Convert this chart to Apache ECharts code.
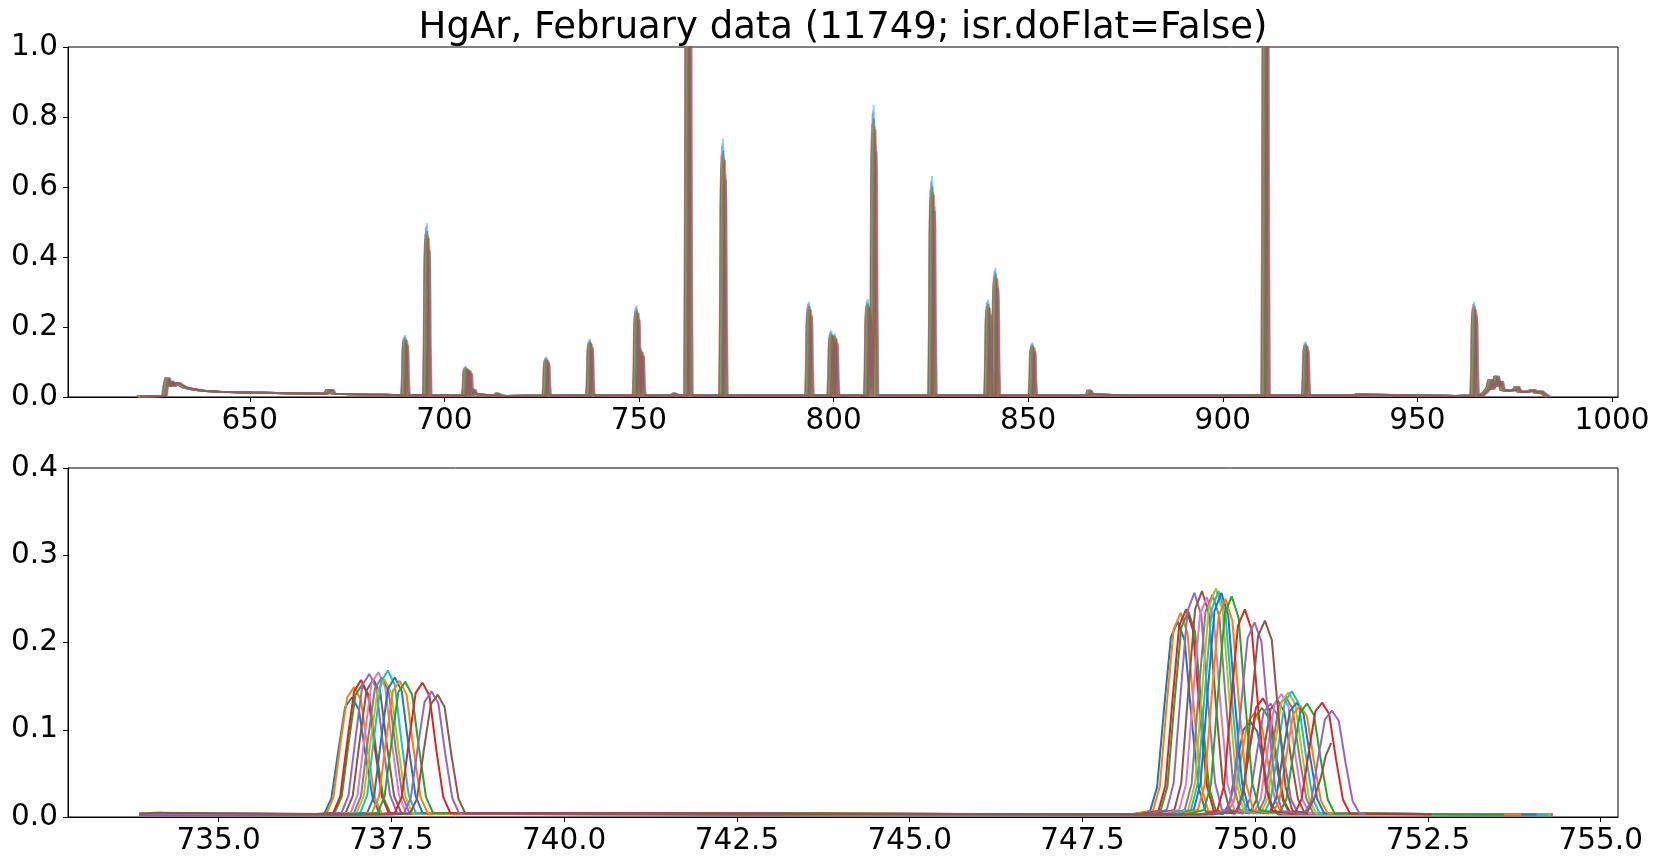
<!DOCTYPE html>
<html><head><meta charset="utf-8">
<script src="https://cdn.jsdelivr.net/npm/echarts@6/dist/echarts.min.js"></script>
<style>html,body{margin:0;padding:0;background:#fff}#c{width:1661px;height:866px}</style>
</head><body><div id="c"></div>
<script>
// ---------- text / ticks ----------
const titleText = 'HgAr, February data (11749; isr.doFlat=False)';
const topXTicks = [650, 700, 750, 800, 850, 900, 950, 1000];
const bottomXTicks = [735, 737.5, 740, 742.5, 745, 747.5, 750, 752.5, 755];
const colors = ['#1f77b4','#ff7f0e','#2ca02c','#d62728','#9467bd','#8c564b','#e377c2','#7f7f7f','#bcbd22','#17becf',
                '#1f77b4','#ff7f0e','#2ca02c','#d62728','#9467bd','#8c564b'];

// ---------- top panel: emission lines ----------
// [centre wavelength (nm), typical peak height]
const topLines = [
  [689.9,0.165],[695.5,0.465],[705.5,0.082],[706.3,0.075],[707.5,0.025],[713.7,0.012],
  [726.2,0.107],[737.4,0.155],[749.4,0.245],[750.5,0.13],[759.2,0.012],[762.6,1.5],
  [771.6,0.69],[793.7,0.255],[799.4,0.178],[800.3,0.17],[808.8,0.262],[810.3,0.78],
  [825.3,0.59],[828.8,0.006],[839.7,0.26],[841.6,0.345],[851.1,0.145],[865.8,0.022],
  [875.8,0.005],[910.9,1.5],[921.3,0.148],[934.3,0.008],[964.6,0.255]
];
// continuum and noisy ends of the spectrum
const topContinuum = [
  [621.4,0.002],[624,0.002],[628.0,0.003],[628.3,0.03],[628.8,0.055],[629.2,0.03],[629.8,0.045],
  [630.3,0.03],[630.8,0.04],[631.5,0.04],[632.3,0.033],[633.3,0.027],[635.3,0.022],[638,0.018],
  [642,0.015],[650,0.013],[660,0.011],[669.6,0.009],[670.1,0.02],[670.9,0.02],[671.4,0.009],
  [680,0.007],[687,0.006],[692.5,0.006],[700,0.005],[712,0.004],[716,0.003],[960,0.003],
  [966.3,0.004],[967.2,0.012],[968.2,0.025],[968.7,0.05],[969.1,0.022],[969.8,0.04],[970.3,0.06],
  [970.7,0.03],[971.3,0.045],[971.8,0.02],[973,0.018],[975,0.02],[975.5,0.03],[976,0.016],
  [978,0.014],[979.7,0.02],[980.5,0.012],[981.6,0.016],[982.5,0.008],[983.4,0.001]
];
// per-exposure wavelength offset and peak scale
const seriesShift = [-0.52,-0.49,-0.37,-0.39,-0.27,-0.21,-0.14,-0.09,-0.05,0,0.10,0.17,0.25,0.50,0.63,0.72];
const seriesPeakScale = [0.88,0.95,0.97,1.0,1.04,1.0,1.05,1.01,1.01,1.07,1.02,1.0,0.99,0.98,0.92,0.90];
// line profile (offset nm, fraction of peak)
const spikeDx = [-0.5,-0.3,-0.15,0,0.15,0.3,0.5];
const spikeFrac = [0,0.35,0.9,1,0.9,0.35,0];
const spikeBase = 0.004;

// ---------- bottom panel: 16 exposures, [wavelength, flux] ----------
const b00=[[733.85,.003],[734.15,.005],[734.5,.003],[736.3,.003],
[736.53,.004],[736.63,.021],[736.73,.075],[736.83,.126],[736.93,.137],[737.03,.123],[737.13,.069],[737.23,.021],[737.33,.004],
[740.5,.003],[748.2,.003],
[748.48,.007],[748.58,.034],[748.68,.123],[748.78,.206],[748.88,.224],[748.98,.202],[749.08,.112],[749.18,.034],[749.28,.007],
[749.53,.003],[749.63,.016],[749.73,.060],[749.83,.100],[749.93,.109],[750.03,.098],[750.13,.055],[750.23,.016],[750.33,.003],
[754.30,.003]];
const b01=[[733.85,.003],[734.1,.004],[734.6,.003],[736.3,.003],
[736.56,.004],[736.66,.022],[736.76,.082],[736.86,.137],[736.96,.149],[737.06,.134],[737.16,.075],[737.26,.022],[737.36,.004],
[741,.003],[748.2,.003],
[748.52,.007],[748.62,.035],[748.72,.129],[748.82,.215],[748.92,.234],[749.02,.211],[749.12,.117],[749.22,.035],[749.32,.007],
[749.59,.004],[749.69,.018],[749.79,.065],[749.89,.109],[749.99,.119],[750.09,.107],[750.19,.060],[750.29,.018],[750.39,.004],
[754.30,.003]];
const b02=[[733.85,.003],[734.2,.004],[736.4,.003],
[736.68,.005],[736.78,.023],[736.88,.084],[736.98,.140],[737.08,.152],[737.18,.137],[737.28,.076],[737.38,.023],[737.48,.005],
[742,.003],[748.3,.003],
[748.63,.007],[748.73,.035],[748.83,.130],[748.93,.217],[749.03,.236],[749.13,.212],[749.23,.118],[749.33,.035],[749.43,.007],
[749.70,.004],[749.80,.019],[749.90,.069],[750.00,.115],[750.10,.125],[750.20,.113],[750.30,.063],[750.40,.019],[750.50,.004],
[754.30,.003]];
const b03=[[733.85,.004],[734.3,.003],[736.4,.003],
[736.66,.005],[736.76,.024],[736.86,.086],[736.96,.144],[737.06,.157],[737.16,.141],[737.26,.079],[737.36,.024],[737.46,.005],
[743,.003],[748.3,.003],
[748.60,.007],[748.70,.036],[748.80,.131],[748.90,.219],[749.00,.238],[749.10,.214],[749.20,.119],[749.30,.036],[749.40,.007],
[749.71,.004],[749.81,.020],[749.91,.075],[750.01,.125],[750.11,.136],[750.21,.122],[750.31,.068],[750.41,.020],[750.51,.004],
[754.30,.003]];
const b04=[[733.85,.003],[734.4,.004],[736.5,.003],
[736.78,.005],[736.88,.025],[736.98,.090],[737.08,.151],[737.18,.164],[737.28,.148],[737.38,.082],[737.48,.025],[737.58,.005],
[744,.003],[748.4,.003],
[748.72,.008],[748.82,.039],[748.92,.141],[749.02,.236],[749.12,.257],[749.22,.231],[749.32,.129],[749.42,.039],[749.52,.008],
[749.82,.004],[749.92,.020],[750.02,.072],[750.12,.120],[750.22,.130],[750.32,.117],[750.42,.065],[750.52,.020],[750.62,.004],
[754.30,.003]];
const b05=[[733.85,.003],[735,.004],[736.6,.003],
[736.84,.005],[736.94,.024],[737.04,.087],[737.14,.145],[737.24,.158],[737.34,.142],[737.44,.079],[737.54,.024],[737.64,.005],
[745,.003],[748.5,.003],
[748.83,.008],[748.93,.039],[749.03,.142],[749.13,.238],[749.23,.259],[749.33,.233],[749.43,.130],[749.53,.039],[749.63,.008],
[749.92,.004],[750.02,.020],[750.12,.074],[750.22,.123],[750.32,.134],[750.42,.121],[750.52,.067],[750.62,.020],[750.72,.004],
[754.30,.003]];
const b06=[[733.85,.003],[735.5,.004],[736.6,.003],
[736.91,.005],[737.01,.025],[737.11,.091],[737.21,.153],[737.31,.166],[737.41,.149],[737.51,.083],[737.61,.025],[737.71,.005],
[744.5,.003],[748.6,.003],
[748.90,.008],[749.00,.038],[749.10,.139],[749.20,.232],[749.30,.252],[749.40,.227],[749.50,.126],[749.60,.038],[749.70,.008],
[749.98,.004],[750.08,.021],[750.18,.078],[750.28,.130],[750.38,.141],[750.48,.127],[750.58,.071],[750.68,.021],[750.78,.004],
[754.30,.003]];
const b07=[[733.85,.003],[736.7,.003],
[736.96,.005],[737.06,.024],[737.16,.088],[737.26,.147],[737.36,.160],[737.46,.144],[737.56,.080],[737.66,.024],[737.76,.005],
[748.7,.003],
[748.98,.008],[749.08,.038],[749.18,.140],[749.28,.235],[749.38,.255],[749.48,.230],[749.58,.128],[749.68,.038],[749.78,.008],
[750.04,.004],[750.14,.021],[750.24,.076],[750.34,.127],[750.44,.138],[750.54,.124],[750.64,.069],[750.74,.021],[750.84,.004],
[754.30,.003]];
const b08=[[733.85,.003],[736.7,.003],
[737.00,.005],[737.10,.024],[737.20,.087],[737.30,.145],[737.40,.158],[737.50,.142],[737.60,.079],[737.70,.024],[737.80,.005],
[748.8,.003],
[749.03,.008],[749.13,.039],[749.23,.144],[749.33,.241],[749.43,.262],[749.53,.236],[749.63,.131],[749.73,.039],[749.83,.008],
[750.08,.004],[750.18,.021],[750.28,.079],[750.38,.132],[750.48,.143],[750.58,.129],[750.68,.072],[750.78,.021],[750.88,.004],
[754.28,.003]];
const b09=[[733.85,.003],[736.8,.003],
[737.05,.005],[737.15,.025],[737.25,.092],[737.35,.155],[737.45,.168],[737.55,.151],[737.65,.084],[737.75,.025],[737.85,.005],
[748.8,.003],
[749.07,.008],[749.17,.039],[749.27,.142],[749.37,.238],[749.47,.259],[749.57,.233],[749.67,.130],[749.77,.039],[749.87,.008],
[750.13,.004],[750.23,.022],[750.33,.079],[750.43,.132],[750.53,.144],[750.63,.130],[750.73,.072],[750.83,.022],[750.93,.004],
[754.24,.003]];
const b10=[[733.85,.003],[736.9,.003],
[737.15,.005],[737.25,.024],[737.35,.088],[737.45,.147],[737.55,.160],[737.65,.144],[737.75,.080],[737.85,.024],[737.95,.005],
[748.9,.003],
[749.11,.008],[749.21,.039],[749.31,.141],[749.41,.236],[749.51,.257],[749.61,.231],[749.71,.129],[749.81,.039],[749.91,.008],
[750.20,.004],[750.30,.020],[750.40,.072],[750.50,.121],[750.60,.131],[750.70,.118],[750.80,.066],[750.90,.020],[751.00,.004],
[754.07,.003]];
const b11=[[733.85,.003],[737.0,.003],
[737.22,.005],[737.32,.023],[737.42,.086],[737.52,.144],[737.62,.156],[737.72,.140],[737.82,.078],[737.92,.023],[738.02,.005],
[748.9,.003],
[749.17,.008],[749.27,.038],[749.37,.138],[749.47,.230],[749.57,.250],[749.67,.225],[749.77,.125],[749.87,.038],[749.97,.008],
[750.25,.004],[750.35,.019],[750.45,.070],[750.55,.118],[750.65,.128],[750.75,.115],[750.85,.064],[750.95,.019],[751.05,.004],
[753.85,.003]];
const b12=[[733.85,.003],[737.1,.003],
[737.30,.005],[737.40,.023],[737.50,.085],[737.60,.143],[737.70,.155],[737.80,.140],[737.90,.078],[738.00,.023],[738.10,.005],
[749.0,.003],
[749.26,.008],[749.36,.038],[749.46,.139],[749.56,.233],[749.66,.253],[749.76,.228],[749.86,.127],[749.96,.038],[750.06,.008],
[750.35,.004],[750.45,.020],[750.55,.072],[750.65,.120],[750.75,.130],[750.85,.117],[750.95,.065],[751.05,.020],[751.15,.004],
[753.60,.003]];
const b13=[[733.85,.003],[737.3,.003],
[737.55,.005],[737.65,.023],[737.75,.085],[737.85,.142],[737.95,.154],[738.05,.139],[738.15,.077],[738.25,.023],[738.35,.005],
[749.2,.003],
[749.45,.007],[749.55,.036],[749.65,.131],[749.75,.219],[749.85,.238],[749.95,.214],[750.05,.119],[750.15,.036],[750.25,.007],
[750.57,.004],[750.67,.020],[750.77,.072],[750.87,.121],[750.97,.131],[751.07,.118],[751.17,.066],[751.27,.020],[751.37,.004],
[752.55,.003]];
const b14=[[733.85,.003],[737.4,.003],
[737.68,.004],[737.78,.022],[737.88,.079],[737.98,.132],[738.08,.144],[738.18,.130],[738.28,.072],[738.38,.022],[738.48,.004],
[749.3,.003],
[749.59,.007],[749.69,.033],[749.79,.123],[749.89,.205],[749.99,.223],[750.09,.201],[750.19,.112],[750.29,.033],[750.39,.007],
[750.71,.004],[750.81,.018],[750.91,.067],[751.01,.112],[751.11,.122],[751.21,.110],[751.31,.061],[751.41,.018],[751.51,.004],
[751.60,.003]];
const b15=[[733.85,.004],[734.1,.005],[737.5,.003],
[737.77,.004],[737.87,.021],[737.97,.077],[738.07,.129],[738.17,.140],[738.27,.126],[738.37,.070],[738.47,.021],[738.57,.004],
[749.4,.003],
[749.74,.007],[749.84,.034],[749.94,.124],[750.04,.207],[750.14,.225],[750.24,.203],[750.34,.113],[750.44,.034],[750.54,.007],
[750.75,.005],[750.85,.02],[750.95,.045],[751.02,.07],[751.10,.085]];
const bottomSeries = [b00,b01,b02,b03,b04,b05,b06,b07,b08,b09,b10,b11,b12,b13,b14,b15];

// ---------- build ----------
function buildTop(s) {
  const pts = topContinuum.map(([x, y]) => [x + seriesShift[s], y]);
  for (const [c, h] of topLines) {
    for (let k = 0; k < spikeDx.length; k++) {
      const y = spikeFrac[k] === 0 ? spikeBase : h * seriesPeakScale[s] * spikeFrac[k];
      pts.push([c + seriesShift[s] + spikeDx[k], y]);
    }
  }
  pts.sort((a, b) => a[0] - b[0]);
  return pts;
}

const FONT = 'DejaVu Sans';
const labelStyle = { fontFamily: FONT, fontSize: 29.5, color: '#000' };
const tickStyle = { show: true, length: 5, inside: false, lineStyle: { color: '#000', width: 1 } };

const series = [];
for (let s = 0; s < 16; s++) {
  series.push({
    type: 'line', xAxisIndex: 0, yAxisIndex: 0, data: buildTop(s), showSymbol: false,
    symbol: 'none', clip: true, animation: false, silent: true,
    lineStyle: { color: colors[s], width: 2, opacity: 0.5 }
  });
}
for (let s = 0; s < 16; s++) {
  series.push({
    type: 'line', xAxisIndex: 1, yAxisIndex: 1, data: bottomSeries[s], showSymbol: false,
    symbol: 'none', clip: true, animation: false, silent: true,
    lineStyle: { color: colors[s], width: 2 }
  });
}

const chart = echarts.init(document.getElementById('c'), null, { renderer: 'canvas' });
chart.setOption({
  animation: false,
  backgroundColor: '#fff',
  graphic: [{
    type: 'text', x: 843, y: 10,
    style: { text: titleText, fontFamily: FONT, fontSize: 37, fill: '#000', align: 'center', verticalAlign: 'top' }
  }],
  grid: [
    { left: 68, top: 47, width: 1550, height: 350, show: true, borderColor: '#000', borderWidth: 1, backgroundColor: 'transparent' },
    { left: 68, top: 468, width: 1550, height: 349, show: true, borderColor: '#000', borderWidth: 1, backgroundColor: 'transparent' }
  ],
  xAxis: [
    { type: 'value', gridIndex: 0, min: 603.3, max: 1001.55, splitLine: { show: false },
      axisLine: { show: true, onZero: false, lineStyle: { color: '#000', width: 1 } },
      axisTick: Object.assign({ customValues: topXTicks }, tickStyle),
      axisLabel: Object.assign({ customValues: topXTicks, margin: 9, formatter: v => String(Math.round(v)) }, labelStyle) },
    { type: 'value', gridIndex: 1, min: 732.82, max: 755.25, splitLine: { show: false },
      axisLine: { show: true, onZero: false, lineStyle: { color: '#000', width: 1 } },
      axisTick: Object.assign({ customValues: bottomXTicks }, tickStyle),
      axisLabel: Object.assign({ customValues: bottomXTicks, margin: 9, formatter: v => Number(v).toFixed(1) }, labelStyle) }
  ],
  yAxis: [
    { type: 'value', gridIndex: 0, min: 0, max: 1, interval: 0.2, splitLine: { show: false },
      axisLine: { show: true, onZero: false, lineStyle: { color: '#000', width: 1 } },
      axisTick: tickStyle,
      axisLabel: Object.assign({ margin: 10, formatter: v => Number(v).toFixed(1) }, labelStyle) },
    { type: 'value', gridIndex: 1, min: 0, max: 0.4, interval: 0.1, splitLine: { show: false },
      axisLine: { show: true, onZero: false, lineStyle: { color: '#000', width: 1 } },
      axisTick: tickStyle,
      axisLabel: Object.assign({ margin: 10, formatter: v => Number(v).toFixed(1) }, labelStyle) }
  ],
  series: series
});
</script>
</body></html>
